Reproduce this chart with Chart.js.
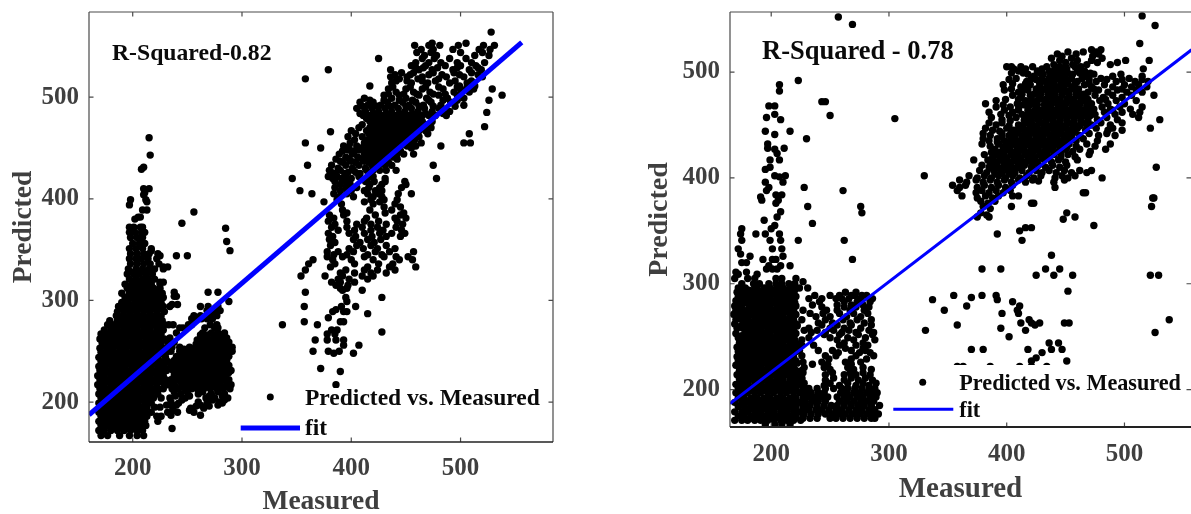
<!DOCTYPE html>
<html><head><meta charset="utf-8">
<script src="https://cdn.jsdelivr.net/npm/chart.js@4"></script>
<style>html,body{margin:0;padding:0;background:#fff;width:1191px;height:514px;overflow:hidden}
canvas{position:absolute;top:0}</style></head><body>
<canvas id="a" style="left:0"></canvas><canvas id="b" style="left:595px"></canvas>
<script>
const tickValues=[200,300,400,500];
const seriesName="Predicted vs. Measured", fitName="fit";
const leftFitX=[160,556], leftFitY=[187.5,554];
const rightFitX=[165,557], rightFitY=[186.8,521];
// rows: [predicted, [measured...]]
const leftMain=[
[167,[171,177,188,197,204,210]],[172,[169,174,180,186,192,198,204,209]],[177,[171,177,183,189,195,201,207,212]],
[181,[169,175,181,187,193,199,205,211,223]],[186,[171,177,183,189,195,201,207,213,222,226]],[190,[169,175,181,187,193,199,205,211,217]],
[195,[171,177,183,189,195,201,207,213,220,225]],[199,[169,175,181,187,193,199,205,211,217]],[204,[171,177,183,189,195,201,207,213,219,226]],
[208,[169,175,181,187,193,199,205,211,217,223]],[213,[170,176,182,188,194,200,206,212,218,224,228]],[217,[168,174,180,186,192,198,204,210,216,222,229]],
[222,[170,176,182,188,194,200,206,212,218,224,230]],[226,[168,174,180,186,192,198,204,210,216,222,228]],[231,[170,176,182,188,194,200,206,212,218,224,231]],
[235,[169,175,181,187,193,199,205,211,217,223,229]],[240,[171,177,183,189,195,201,207,213,219,225,232]],[244,[169,175,181,187,193,199,205,211,217,223,230]],
[249,[171,177,183,189,195,201,207,213,219,225,231]],[253,[170,176,182,188,194,200,206,212,218,224,229]],[258,[172,178,184,190,196,202,208,214,220,226]],
[262,[170,176,182,188,194,200,206,212,218,224,229]],[267,[171,177,183,189,195,201,207,213,219,226]],[271,[174,180,186,192,198,204,210,216,222,228]],
[276,[177,183,189,195,201,207,213,219,225,229]],[280,[179,186,192,198,204,210,216,222,227]],[285,[185,191,197,203,209,215,221,226]],
[289,[186,192,198,204,210,216,222,229]],[294,[187,193,199,205,211,217,223,228]],[298,[190,196,202,208,214,220,226]],
[303,[193,199,205,211,217,223,228]],[307,[190,197,203,209,215,221,227]],[312,[195,201,207,213,219,225]],
[316,[193,199,205,211,217,225]],[321,[197,203,209,214,220]],[326,[195,201,206,212,218]],
[331,[196,203,209,215,220,228]],[336,[198,204,210,216,224]],[341,[197,203,208,214,222]],
[346,[198,204,210,215,223]],[351,[197,203,209,217]],[356,[200,206,211]],[362,[198,204,209]],
[367,[197,202,208,211]],[372,[197,201,207,209]],[380,[202]],[382,[205,207]],[389,[209,213]],[394,[197]],[397,[213]],[399,[198,212]],
[404,[210]],[406,[211]],[410,[210,215]],[429,[208]],[431,[210]],[443,[216]],[460,[215]]
];
const leftCore=[
[175,[174,180,186,192,198,204]],[184,[174,180,186,192,198,204,210]],[193,[174,180,186,192,198,204,210]],[202,[174,180,186,192,198,204,210,216]],
[211,[173,179,185,191,197,203,209,215,221]],[220,[173,179,185,191,197,203,209,215,221,227]],[229,[173,179,185,191,197,203,209,215,221,227]],
[238,[174,180,186,192,198,204,210,216,222,228]],[247,[174,180,186,192,198,204,210,216,222,228]],[256,[175,181,187,193,199,205,211,217,223]],
[265,[174,180,186,192,198,204,210,216,222]],[274,[180,186,192,198,204,210,216,222]],[283,[188,194,200,206,212,218,224]],[292,[190,196,202,208,214,220,226]],
[301,[196,202,208,214,220]],[310,[198,204,210,216,222]],[319,[200,206,212,217]],[328,[198,204,209,215]]
];
const leftMid=[
[174,[236]],[187,[262,235]],[190,[232,241,256]],[192,[237,252]],[194,[253,265]],[196,[236,258,270]],[197,[231,240,262,278]],[199,[242,268,282]],
[200,[235,260,279]],[202,[245,273,284]],[204,[234,248,267,275,287]],[206,[239,252,270,282]],[208,[244,260,272,284]],[210,[238,250,264,278]],
[213,[236,242,248,254,259,265,271,277,283,289]],[217,[232,238,245,251,256,262,268,274,280,286,290]],[222,[235,241,247,253,259,265,271,277,283,288]],
[226,[238,244,250,256,262,268,274,280,285]],[231,[237,243,249,255,261,267,273,279,285,290]],[236,[235,241,247,253,259,265,271,277,283,288]],
[241,[238,244,250,256,262,268,274,280,286]],[245,[240,246,252,258,264,270,276,282,288]],[250,[235,243,249,255,261,267,273,279,285,291]],
[254,[236,243,252,258,264,270,276,282,288,291]],[259,[232,238,260,266,272,278,284,288]],[263,[234,262,268,274,280,286]],
[268,[240,264,272,278,284]],[273,[243,246,266,275,278]],[276,[233,237,251,254,271,277]],[282,[254,258,263,268,273]],
[285,[256,262,272,277]],[290,[268,273,276,280]],[294,[234,262,269,278]],[296,[236,241]],[299,[288]],[304,[238,240]],[308,[269,278,238]],
[318,[225,228]],[333,[228,232]],[344,[240,250,225]],[349,[217,289]],[358,[286]],[371,[285]],[376,[245]],[387,[256]]
];
const leftMidCore=[
[215,[239,245,251,257,263,269,275,281,287]],[220,[238,244,250,256,262,268,274,280,286]],[224,[241,247,253,259,265,271,277,283]],
[229,[240,246,252,258,264,270,276,282,288]],[234,[238,244,250,256,262,268,274,280,286]],[239,[241,247,253,259,265,271,277,283]],
[243,[243,249,255,261,267,273,279,285]],[248,[246,252,258,264,270,276,282,288]],[252,[247,255,261,267,273,279,285]],
[257,[258,263,269,275,281,287]],[261,[259,265,271,277,283]],[266,[262,268,275,281]]
];
const leftUpper=[
[564,[528]],[553,[474,505]],[551,[458,471,481,498,521,531]],[547,[464,475,493,517,527]],[544,[460,473,500,520]],[541,[467,478,513,526]],
[538,[425,465,476,490,505]],[534,[459,471,482,497,510,522]],[531,[455,468,486,500,514]],[527,[436,462,474,493,508,519,379]],
[524,[446,457,475,494,510]],[520,[436,451,465,487,503,520]],[518,[358,444,461,480]],[514,[437,455,470,490,506]],[511,[417,499,513]],
[508,[434,450,465,484,500,512,529]],[505,[441,457,472,494,508]],[502,[538,430,444,462,480,497]],[499,[412,437,450,469,488,503]],[497,[526]],
[495,[408,420,433,447,459,473,491]],[492,[415,427,440,453,466,482,503]],[489,[405,419,431,443,455,467,480]],[486,[413,425,437,449,461,474,490]],[485,[524]],
[482,[411,417,423,429,435,441,447,453,459,465,471,477,487]],[479,[414,420,426,432,438,444,450,456,462]],[476,[417,423,429,435,441,447,453,459,465,474]],[471,[522]],
[473,[410,420,426,432,438,444,450,456,462,469]],[470,[407,417,423,429,435,441,447,453,459,473]],[466,[381]],[467,[400,414,420,426,432,438,444,450,456,462,468]],
[464,[404,416,423,429,435,441,447,453,459,470,508]],[461,[397,410,419,425,431,437,443,449,455,462]],[458,[403,415,422,428,434,440,446,452,458]],
[455,[358,503,509,399,412,418,424,430,436,442,448,454,464]],[452,[393,405,415,421,427,433,439,445,451,459,482]],[450,[372,398,409,418,424,430,436,442,455]],
[447,[392,403,415,421,427,433,439,445]],[444,[389,401,412,418,424,430,436,442,448,457]],[441,[395,406,415,421,427,433,439]],
[439,[386,398,410,418,424,430,442]],[436,[392,404,416,422,428,434]],[433,[360,382,395,407,419,425,431,437,475]],[430,[388,401,413]],
[428,[380,390,402,414,420,426,432,441]],[425,[385,394,408]],[422,[379,387,395,407,420]],[420,[383,391,400,415,431,346,478]],
[417,[385,395,413,421,431,449]],[414,[390,399,417,428,450]],[411,[385,395,405,416,426,446]],[408,[353,390,400,412,422,428]],
[405,[364,384,396,415,425,443,455]],[402,[389,402,420,428]],[399,[387,418,430,442]],[397,[375,412,426]],
[395,[391,420,440]],[392,[430,445]],[389,[392,417,437]],[386,[396,431,448]],[384,[380,393,422,445]],[381,[384,414,440,450]],
[378,[379,396,412,425,442]],[375,[385,405,418,432,447]],[372,[382,396,410,424,441]],[369,[388,403,418,429,446]],
[366,[379,398,412,426,437,449]],[363,[383,404,419,432,445]],[360,[380,402,415,427]],[357,[385,408,421]],[354,[381,405,418,432]],[351,[398,411,424,440]],
[348,[378,388,402,422,435,457]],[345,[384,396,415,428]],[343,[378,392,412,430,441,452]],[340,[365,383,400,420,444,456]],[336,[361,385,403,425,438]],[333,[381,415,435,459]],
[330,[358,395,412,424,440]],[327,[390,403,418,432]],[324,[354,376,392,410,420]],[321,[388,398,415]],[318,[382,390,403]],[315,[386,397]],
[312,[390,396]],[310,[392,410]],[308,[358]],[303,[395,428]],[299,[396]],[294,[357,404,391]],[291,[386]],[289,[393,383,396]],[287,[415]],
[283,[379]],[279,[357,390,393]],[276,[337,369]],[271,[382,387]],[269,[428]],[267,[378,385]],[261,[367,378,386,393]],[256,[393,407]],
[250,[365,379,389]],[248,[384,402]],[233,[372]],[230,[390]],[217,[386]]
];
const leftUpperFill=[
[529,[459,466,479,497,516]],[522,[440,454,471,483,499,516]],[516,[441,451,465,477,495,510]],[510,[438,454,468,480,497,506]],[503,[434,448,460,475,486,500]],
[497,[417,430,444,456,471,484,497]],[491,[410,424,436,450,462,475,495]],[484,[408,420,432,444,456,468,484]],[448,[397,407,412]],[437,[390,400,412]],[426,[382,397,404,416]]
];
const rightMain=[
[167,[195,203,209,216]],[171,[169,175,180,186,191,197,202,208,213,219,225]],[175,[172,177,183,188,194,199,205,210,216,221,227]],
[179,[169,175,180,186,191,197,202,208,213,219,224]],[184,[172,177,183,188,194,199,205,210,216,221,227]],[188,[169,175,180,186,191,197,202,208,213,219,224]],
[192,[172,177,183,188,194,199,205,210,216,221,227]],[197,[170,175,180,186,191,197,202,208,213,219,224]],[201,[172,177,183,188,194,199,205,210,216,221,227]],
[205,[170,175,180,186,191,197,202,208,213,219,224]],[210,[173,177,183,188,194,199,205,210,216,221,226]],[214,[171,175,180,186,191,197,202,208,213,219,224]],
[218,[173,178,183,188,194,199,205,210,216,221,226]],[223,[170,175,180,186,191,197,202,208,213,219]],[227,[172,178,183,188,194,199,205,210,216,221]],
[231,[171,175,180,186,191,197,202,208,213,219]],[236,[172,178,183,188,194,199,205,210,216,221]],[240,[171,175,180,186,191,197,202,208,213,219]],
[244,[173,178,183,188,194,199,205,210,216,221]],[249,[172,176,181,186,191,197,202,208,213,219]],[253,[170,178,183,188,194,199,205,210,216,221]],
[258,[171,176,180,186,191,197,202,208,213,219]],[262,[169,178,183,188,194,199,205,210,216,221]],[266,[170,175,180,186,191,197,202,208,213,219]],
[271,[168,173,183,188,194,199,205,210,216,221]],[275,[170,175,180,186,191,197,202,208,213,219]],[279,[169,173,183,188,194,199,205,210,216,221]],
[284,[170,175,180,186,191,197,202,208,213,219]],[288,[172,178,183,188,194,199,205,210,216,221]],[292,[171,177,183,186,191,197,202,208,213,219]],
[296,[172,178,186,194,199,205,210,216,224,231]],[300,[175,185,190,198,204,209,215,220]],[302,[227]],[305,[169,180,186,204,209,221]],
[309,[172,188]],[311,[170,179]],[314,[196,201,205]],[317,[198,208,216]],[320,[175,179]],[323,[193,201,204]],[326,[182,210]],[328,[174]],[333,[172,201,209]],
[341,[175,199,208,223,262]],[347,[174,187,195,207]],[352,[175,200]],[355,[203]],[357,[235]],[360,[194]],[363,[205]],[368,[208]],[373,[231,276]],[367,[277]],
[376,[204]],[379,[192,206]],[382,[191]],[384,[204,209]],[388,[196,261]],[391,[198,228]],[396,[195,210]],[402,[203,212]],[401,[207]],[408,[195]],[410,[199]],
[417,[199,207]],[423,[205]],[427,[203]],[428,[197,211]],[432,[197]],[437,[230]],[441,[203]],[444,[195,216]],[455,[208]],[457,[196]],[459,[250]],[456,[305]],[460,[203]],
[468,[198,203]],[472,[243,246]],[482,[207]],[488,[207]],[492,[223]],[545,[269]],[552,[257]],[323,[269]]
];
const rightCore=[
[173,[178,184,190,196,202,208,214,220]],[182,[178,184,190,196,202,208,214,220]],[190,[178,184,190,196,202,208,214,220]],[199,[178,184,190,196,202,208,214,220]],
[208,[175,180,186,192,198,204,210,216,222]],[216,[176,182,188,194,200,206,212,218]],[221,[177,185,191,197,203,209,215]],[225,[174,180,186,192,198,204,210,216,222]],[229,[177,183,189,195,201,207,213,219]],[234,[176,182,188,194,200,206,212,218]],
[238,[177,185,191,197,203,209,215]],[242,[174,180,186,192,198,204,210,216,222]],[247,[178,184,190,196,202,208,214,220]],[251,[175,181,187,193,199,205,211,217]],[256,[179,185,191,197,203,209,215]],[260,[174,180,186,192,198,204,210,216,222]],[264,[177,183,189,195,201,207,213,219]],[269,[176,180,186,192,198,204,210,216]],
[273,[178,185,191,197,203,209,215]],[277,[175,181,187,193,199,205,211,217]],[282,[178,184,190,196,202,208,214,220]],[286,[174,181,187,193,199,205,211,217]],[290,[175,181,188,194,200,206,212,218]],[294,[175,181,189,196,202,208,214,220]]
];
const rightBlock=[
[292,[263,272]],[289,[258,268,277,237,250,271,281]],[286,[232,243,255,260,266,276,286]],[283,[241,262,273,284]],[280,[235,256,268,278]],
[278,[243,262,272,283]],[275,[227,247,256,267,279]],[272,[233,244,258,270,282]],[269,[238,250,264,276]],[266,[226,246,261,273,285]],[263,[240,252,267,279]],
[261,[222,243,256,268,285]],[258,[232,250,262,276]],[256,[228,239,253,266,283]],[254,[234,246,260,272,287]],[252,[245,258,274,286]],[249,[232,250,265,280]],
[247,[226,256,270,288]],[244,[262,278]],[242,[226,236,258,272,282]],[239,[263,278]],[237,[224,240,252,268,280]],[235,[257,275,284]],[232,[226,246,255,272,287]],
[229,[249,268,281]],[226,[227,243,263,276]],[224,[235,248,268]],[221,[228,245,265,278]],[219,[250,270,285]],[216,[227,252,267,278]],[214,[246,262,272,284]],
[211,[226,253,268,280]],[209,[246,262,274,286]],[206,[228,250,265,278,289]],[204,[245,258,272,283]],[201,[232,239,246,253,260,265,271,277,283,288]],[197,[229,234,240,245,259,264,270,275,281,286,290]],
[193,[228,233,238,243,248,256,262,267,273,278,284,289]],[189,[229,235,240,246,258,264,270,276,281,287]],[185,[228,233,239,245,251,256,262,268,274,279,285,292]],
[181,[227,232,238,243,249,255,260,266,272,277,283,288]],[177,[228,234,240,246,252,258,263,269,275,281,286,291]],[173,[227,233,239,250,255,261,267,273,279,285,288]]
];
const rightUpperCore=[
[505,[412,422,434,450,458]],[499,[404,414,428,439,445,452,462,471]],[494,[408,421,430,436,443,455,464,480,504]],
[489,[405,416,428,434,440,446,452,458,470]],[484,[404,415,425,431,437,443,449,455,461,474,498]],[479,[413,423,429,435,441,447,453,459,465]],[474,[399,410,421,427,433,439,445,451,457,463,469,484]],
[469,[397,414,420,426,432,438,444,450,456,462,468]],[464,[398,410,418,424,430,436,442,448,454,460,466,472,490]],[459,[402,417,423,429,435,441,447,453,459,465,471]],
[454,[403,415,421,427,433,439,445,451,457,463,469]],[449,[402,414,420,426,432,438,444,450,456,462,468]],[444,[394,404,410,416,422,428,434,440,446,452,458]],
[439,[396,407,413,419,425,431,437,443,449,455]],[434,[392,400,408,414,420,426,432,438,444,450]],[429,[397,403,409,415,421,427,433,439,445,451]],
[424,[387,392,398,404,410,416,422,428,434,440,446]],[419,[388,394,400,406,412,418,424,430,436]],[414,[386,392,398,404,410,416,422]],[409,[388,394,400,406,412]],[404,[390,396,402]]
];
const rightUpper=[
[553,[515]],[544,[526]],[527,[513]],[521,[472,480]],[519,[476,452,465]],[517,[443,459,478]],[515,[447,473]],[513,[438,455,481]],[511,[445,460,472,501,521]],[509,[450,477,494]],
[507,[440,456,468,488]],[505,[400,404,445,463]],[503,[406,416,430,441,451,516]],[501,[410,426,436,447,460,466]],[498,[418,431,442,456,474,497]],[496,[423,437,448,467,490,515]],
[493,[402,425,440,451,470,485,498,515]],[491,[417,433,446,460,476,493,509,520]],[488,[397,420,436,448,466,483,500,512]],[486,[412,428,442,456,472,490,506,519]],
[483,[398,418,434,446,460,478,494,510]],[481,[410,426,440,452,469,486,502,515]],[478,[525,405,420,436,447,460,475,490,506]],[476,[412,428,441,453,467,482,498]],
[473,[391,416,432,442,454,466,479,493,510]],[470,[382,409,424,437,448,460,472,486,500]],[467,[391,403,418,433,444,456,468,481,496,515]],[465,[410,426,438,450,462,474,488,505]],
[462,[385,405,420,433,445,457,469,483,498,513]],[460,[395,413,427,439,451,463,475,492,507]],[457,[387,408,421,433,445,457,469,485,512]],[455,[530,396,415,427,439,451,463,477,494]],
[452,[385,396,416,428,440,452,464,480,498]],[450,[391,410,422,434,446,458,472,488]],[447,[382,400,412,424,436,448,460,476,490,522]],[445,[388,406,418,430,442,454,467,486,498]],
[442,[380,396,408,420,432,444,456,470,485]],[440,[386,402,414,426,438,450,462,478,492]],[437,[380,392,404,416,428,440,452,465]],[435,[385,398,410,422,434,446,459,477]],
[432,[379,393,405,417,429,441,453,468,488]],[430,[386,399,411,423,435,447,459,475]],[427,[390,402,414,426,438,450,462,484]],[425,[396,408,420,432,444,456,471]],
[422,[381,392,404,416,428,440,452,470]],[420,[398,410,422,434,446,458]],[417,[372,384,396,408,420,432,444,460]],[415,[390,402,414,426,438,450]],
[412,[379,391,403,415,427,439,451]],[410,[385,397,409,421,433,445,527]],[407,[377,389,401,413,425,436,449,462,472]],[405,[383,395,407,419,430,442,455,468]],
[402,[330,368,381,393,405,417,429,447,458]],[400,[375,387,399,411,423,441,452,481]],[398,[360,374,386,398,410,422,449]],[396,[366,380,392,404,416,440]],
[397,[427]],[393,[354,365,381,393,405]],[391,[360,375,387,399,441]],[388,[358,379,391,403]],[386,[374,385,397,465,467]],[383,[362,382,393,405,410]],
[381,[375,388,524,525]],[378,[378,390]],[376,[384,421,423]],[373,[380,404,523]],[371,[386]],[367,[378,451]],[365,[383]],[363,[375,385,458]],[361,[448]],[355,[474]],
[353,[416,421]],[350,[411]],[347,[392]],[341,[413]],[327,[438]],[314,[379,395,433,445]],[308,[425,440,456,522,529]],[293,[452]],[289,[355,379,391]],
[287,[370]],[285,[337,392]],[283,[405]],[279,[366,411]],[275,[347,409]],[272,[396,410]],[266,[419,538]],[263,[412,421,428,449,453]],[261,[358,424]],
[258,[395]],[256,[331,416]],[254,[526]],[250,[402]],[244,[436,444]],[238,[370,380,418,438,447]],[235,[430]],[230,[425]],[227,[421,451]],[222,[358,363,386,411,421,434]]
];
const toPoints=rows=>rows.flatMap(([y,xs])=>xs.map(x=>({x,y})));
const zip=(xs,ys)=>xs.map((x,i)=>({x,y:ys[i]}));

const frame={id:'frame',afterDatasetsDraw(c,_,o){
  const {left:l,right:r,top:t,bottom:b}=c.chartArea,g=c.ctx,X=c.scales.x,Y=c.scales.y;
  g.save();
  if(o.box){g.fillStyle='#fff';g.fillRect(o.box[0],o.box[1],o.box[2],o.box[3]);}
  g.strokeStyle='#4a4a4a';g.lineWidth=1.2;g.beginPath();
  g.moveTo(l,t);g.lineTo(r,t);g.moveTo(l,t);g.lineTo(l,b);
  if(o.rightBorder){g.moveTo(r,t);g.lineTo(r,b);}
  for(const v of tickValues){const px=X.getPixelForValue(v),py=Y.getPixelForValue(v);
    g.moveTo(px,b);g.lineTo(px,b-4.5);g.moveTo(px,t);g.lineTo(px,t+4.5);
    g.moveTo(l,py);g.lineTo(l+4.5,py);g.moveTo(r,py);g.lineTo(r-4.5,py);}
  g.stroke();
  g.strokeStyle='#222';g.lineWidth=o.baseW;g.beginPath();g.moveTo(l,b);g.lineTo(r,b);g.stroke();
  g.fillStyle='#0a0a0a';g.textBaseline='alphabetic';g.textAlign='left';
  g.font='bold '+o.noteSize+'px "Liberation Serif"';g.fillText(o.note,o.noteX,o.noteY);
  g.font='bold '+o.legSize+'px "Liberation Serif"';
  g.fillText(seriesName,o.legX,o.legY1);g.fillText(fitName,o.legX,o.legY2);
  g.fillStyle='#000';g.beginPath();g.arc(o.mark[0],o.mark[1],o.mark[2],0,7);g.fill();
  g.strokeStyle='#0000ff';g.lineWidth=o.lineW;g.beginPath();g.moveTo(o.leg[0],o.leg[2]);g.lineTo(o.leg[1],o.leg[2]);g.stroke();
  g.restore();
}};
function build(id,w,pts,fx,fy,cfg){
  const el=document.getElementById(id);el.width=w;el.height=514;el.style.width=w+'px';el.style.height='514px';
  const noMargins=s=>{s.paddingTop=s.paddingBottom=s.paddingLeft=s.paddingRight=0;};
  const axis=(min,max,fit,label,pad,tsize,tpad)=>({type:'linear',min,max,
    afterBuildTicks:s=>{s.ticks=tickValues.map(value=>({value}));},afterFit:s=>{fit(s);noMargins(s);},
    grid:{display:false,drawTicks:false},border:{display:false},
    ticks:{color:'#3f3f3f',padding:pad,maxRotation:0,font:{family:'"Liberation Serif"',weight:'bold',size:25},callback:v=>String(v)},
    title:{display:true,text:label,color:'#3f3f3f',padding:tpad,font:{family:'"Liberation Serif"',weight:'bold',size:tsize}}});
  new Chart(el,{type:'scatter',plugins:[frame],data:{datasets:[
    {label:fitName,data:zip(fx,fy),showLine:true,pointRadius:0,borderColor:'#0000ff',borderWidth:cfg.lineW,order:0},
    {label:seriesName,data:pts,pointRadius:cfg.r,pointBackgroundColor:'#000',pointBorderWidth:0,showLine:false,order:1}
  ]},options:{responsive:false,animation:false,events:[],devicePixelRatio:1,
    layout:{autoPadding:false,padding:cfg.pad},
    scales:{x:axis(cfg.x[0],cfg.x[1],s=>{s.height=cfg.xh},'Measured',cfg.xPad,cfg.tx,cfg.xTitlePad),y:axis(cfg.y[0],cfg.y[1],s=>{s.width=cfg.yw},'Predicted',cfg.yPad,cfg.ty,cfg.yTitlePad)},
    plugins:{legend:{display:false},tooltip:{enabled:false},frame:cfg.frame}}});
}
build('a',595,[...toPoints(leftMain),...toPoints(leftCore),...toPoints(leftMid),...toPoints(leftMidCore),...toPoints(leftUpper),...toPoints(leftUpperFill)],leftFitX,leftFitY,{
  x:[160,584.6],y:[160.7,583.8],r:3.7,lineW:5,xh:72,yw:89,pad:{left:0,top:12,right:42,bottom:0},xPad:12,yPad:10,tx:27.5,ty:27.5,xTitlePad:{top:0,bottom:-4},yTitlePad:{top:7,bottom:0},
  frame:{rightBorder:true,baseW:1.3,note:'R-Squared-0.82',noteSize:23.7,noteX:112,noteY:60,legSize:23.5,legX:305,legY1:405,legY2:435,mark:[270.3,397,3.5],leg:[240.7,300,428],lineW:5,box:[238,388,307,52]}});
build('b',596,[...toPoints(rightMain),...toPoints(rightCore),...toPoints(rightBlock),...toPoints(rightUpperCore),...toPoints(rightUpper)],rightFitX,rightFitY,{
  x:[165,556.5],y:[164.7,556.7],r:3.7,lineW:3,xh:87,yw:135,pad:{left:0,top:12,right:0,bottom:0},xPad:13,yPad:10,tx:29,ty:28,xTitlePad:{top:0,bottom:7.5},yTitlePad:{top:48,bottom:0},
  frame:{rightBorder:false,baseW:2,note:'R-Squared - 0.78',noteSize:26.5,noteX:167,noteY:59,legSize:22.2,legX:364.3,legY1:390,legY2:416.7,mark:[327.7,382.3,3.5],leg:[298.3,358.3,409.3],lineW:3,box:[293,365,302,60]}});
</script></body></html>
